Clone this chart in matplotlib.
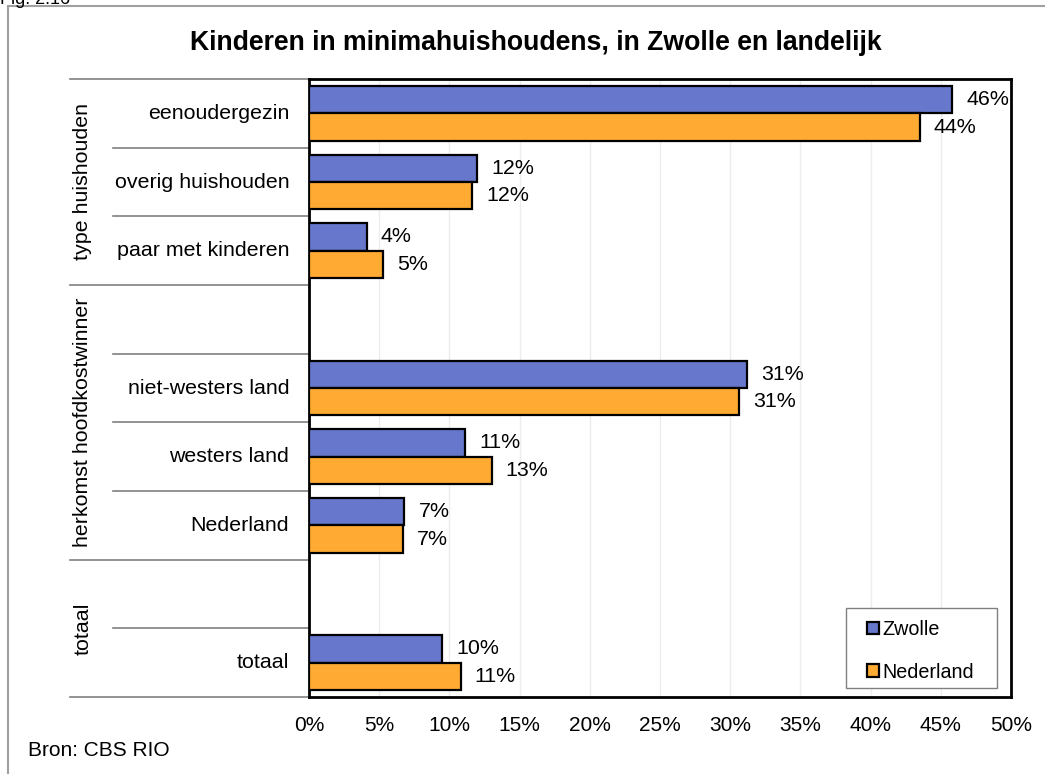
import matplotlib
matplotlib.use("Agg")
import matplotlib.pyplot as plt
from matplotlib.patches import Patch, Rectangle
from matplotlib.lines import Line2D

plt.rcParams['font.family'] = ['Liberation Sans', 'DejaVu Sans']

categories = ["eenoudergezin", "overig huishouden", "paar met kinderen", "",
              "niet-westers land", "westers land", "Nederland", "", "totaal"]
zwolle = [45.8, 12.0, 4.1, None, 31.2, 11.1, 6.8, None, 9.5]
nederland = [43.5, 11.6, 5.3, None, 30.6, 13.0, 6.7, None, 10.8]
zwolle_labels = ["46%", "12%", "4%", None, "31%", "11%", "7%", None, "10%"]
nederland_labels = ["44%", "12%", "5%", None, "31%", "13%", "7%", None, "11%"]
groups = [("type huishouden", 0, 2), ("herkomst hoofdkostwinner", 3, 6), ("totaal", 7, 8)]
xticks = [0, 5, 10, 15, 20, 25, 30, 35, 40, 45, 50]
title = "Kinderen in minimahuishoudens, in Zwolle en landelijk"

W, H = 1045, 774
fig = plt.figure(figsize=(W / 100, H / 100), dpi=100)
ax = fig.add_axes([309 / W, 1 - 697 / H, (1011 - 309) / W, (697 - 79) / H])

blue = "#6677CC"
orange = "#FFAA33"
fs = 15.4
bh = 0.4
for i in range(len(categories)):
    if zwolle[i] is not None:
        ax.barh(i - bh / 2, zwolle[i], height=bh, color=blue, edgecolor="black", linewidth=1.6, zorder=3)
        ax.text(zwolle[i] + 1.0, i - bh / 2, zwolle_labels[i], va="center", ha="left", fontsize=fs, zorder=4)
    if nederland[i] is not None:
        ax.barh(i + bh / 2, nederland[i], height=bh, color=orange, edgecolor="black", linewidth=1.6, zorder=3)
        ax.text(nederland[i] + 1.0, i + bh / 2, nederland_labels[i], va="center", ha="left", fontsize=fs, zorder=4)

ax.set_xlim(0, 50)
ax.set_ylim(len(categories) - 0.5, -0.5)
ax.set_xticks(xticks)
ax.set_xticklabels([f"{t}%" for t in xticks], fontsize=15)
ax.tick_params(axis="x", length=0, pad=14)
ax.set_yticks([])
ax.grid(axis="x", color="#ededed", linewidth=1, zorder=0)
for s in ax.spines.values():
    s.set_linewidth(2)
    s.set_color("black")

# category labels
tr = ax.get_yaxis_transform()
for i, c in enumerate(categories):
    if c:
        ax.text(-0.028, i, c, transform=tr, ha="right", va="center", fontsize=fs)

# category separators
inner_x = (113 - 309) / (1011 - 309)
outer_x = (70 - 309) / (1011 - 309)
group_bounds = set()
for g, a, b in groups:
    group_bounds.add(a - 0.5)
    group_bounds.add(b + 0.5)
for k in range(len(categories) + 1):
    yb = k - 0.5
    x0 = outer_x if yb in group_bounds else inner_x
    ax.add_line(Line2D([x0, 0], [yb, yb], transform=tr, color="#808080", linewidth=1.2, clip_on=False))
for g, a, b in groups:
    ax.text((83 - 309) / (1011 - 309), (a + b) / 2, g, transform=tr, rotation=90,
            ha="center", va="center", fontsize=fs)

# legend
handles = [Patch(facecolor=blue, edgecolor="black", linewidth=1.6, label="Zwolle"),
           Patch(facecolor=orange, edgecolor="black", linewidth=1.6, label="Nederland")]
leg = fig.legend(handles=handles, loc="upper left", bbox_to_anchor=(867 / W, 1 - 620 / H),
                 frameon=False, fontsize=14.2, handlelength=0.62, handleheight=0.62,
                 handletextpad=0.18, labelspacing=1.2, borderpad=0, borderaxespad=0)
leg.set_zorder(10)
fig.patches.append(Rectangle((846 / W, 1 - 688 / H), (997 - 846) / W, (688 - 608) / H,
                             transform=fig.transFigure, facecolor="white", edgecolor="#808080",
                             linewidth=1, zorder=9))

fig.text(536 / W, 1 - 43 / H, title, ha="center", va="center", fontsize=19.2, fontweight="bold")
fig.text(28 / W, 1 - 750 / H, "Bron: CBS RIO", ha="left", va="center", fontsize=15)
fig.text(0 / W, 1 - 4 / H, "Fig. 2.16", ha="left", va="baseline", fontsize=13)
fig.patches.append(Rectangle((8 / W, -0.01), 1.0, 1 - 6 / H + 0.01, transform=fig.transFigure,
                             fill=False, edgecolor="#a0a0a0", linewidth=1.5))

fig.savefig("out.png", dpi=100)
